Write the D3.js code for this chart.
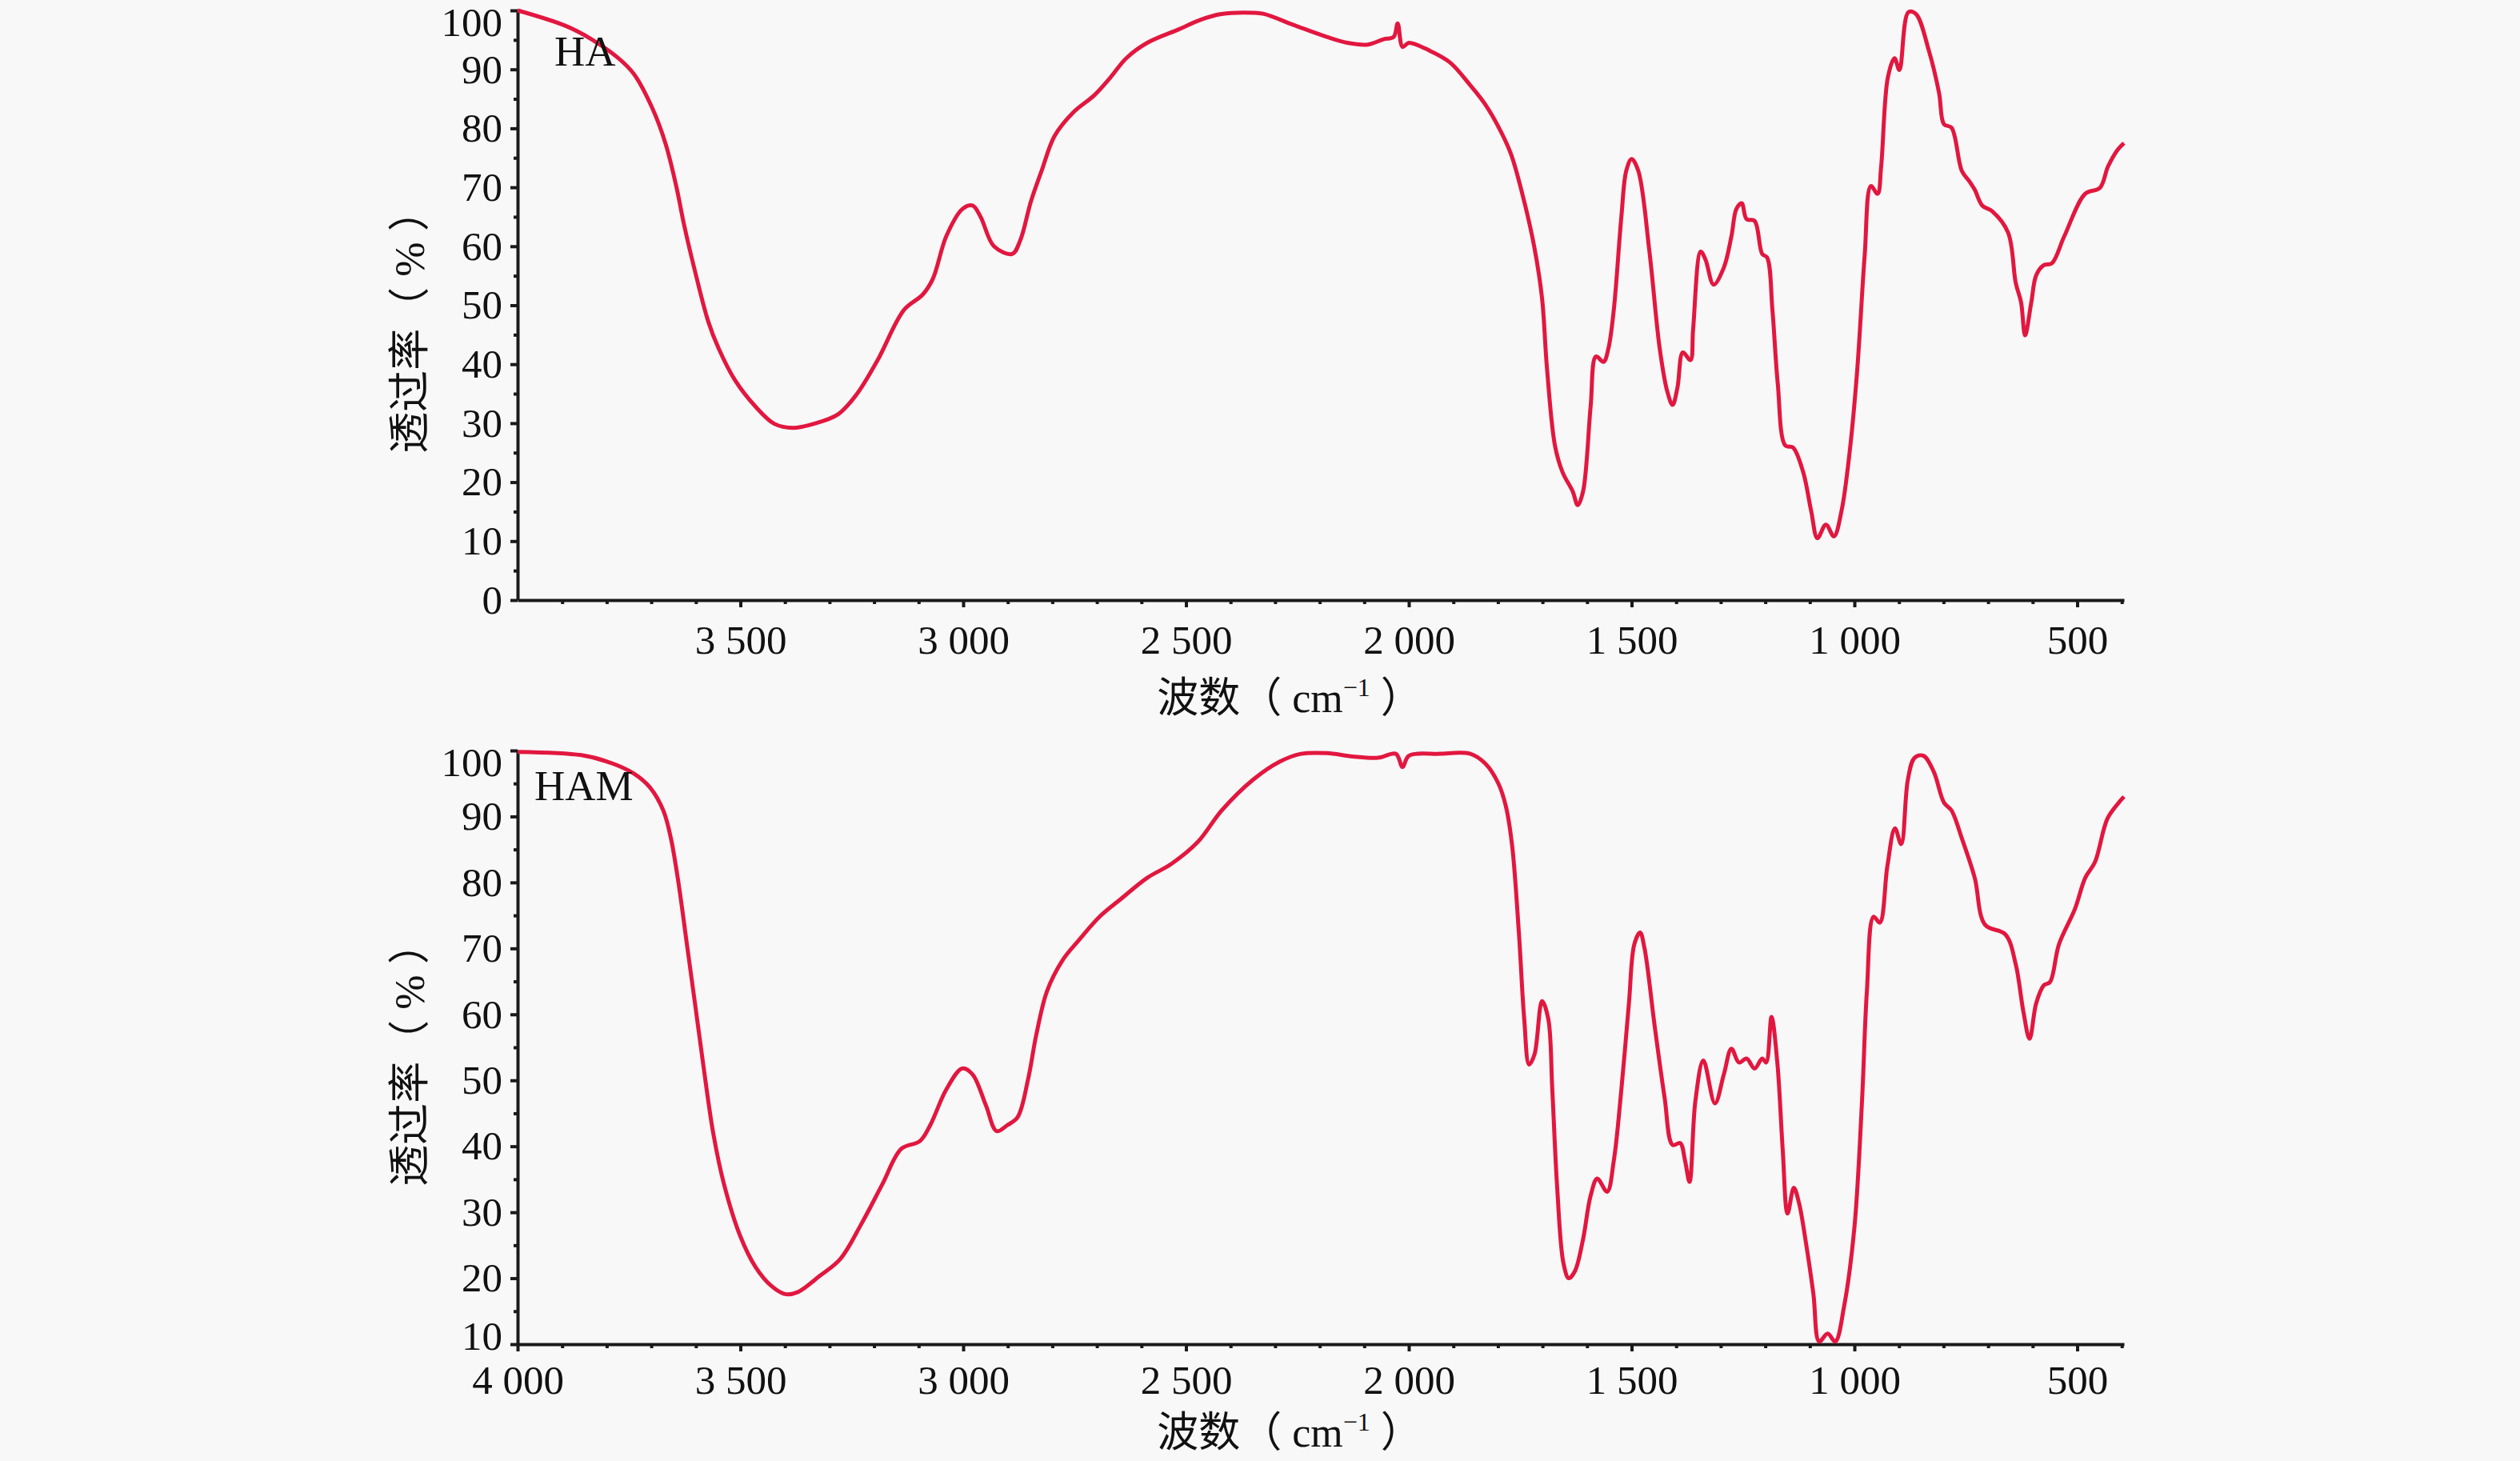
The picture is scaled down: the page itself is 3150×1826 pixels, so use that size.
<!DOCTYPE html>
<html>
<head>
<meta charset="utf-8">
<script src="https://cdn.jsdelivr.net/npm/d3@7"></script>
<style>
  html, body { margin: 0; padding: 0; background: #f8f8f8; }
  svg { display: block; }
</style>
</head>
<body>
<svg id="chart"></svg>
<script>
const width = 3150
const height = 1826

// HA spectrum (wavenumber cm-1 / transmittance %)
const haWavenumber = [4000, 3893, 3834, 3774, 3739, 3697, 3668, 3644, 3626, 3602, 3572, 3549, 3513, 3466, 3424, 3382, 3335, 3281, 3240, 3192,
  3133, 3091, 3068, 3038, 3002, 2979, 2961, 2931, 2890, 2872, 2848, 2824, 2795, 2753, 2706, 2670, 2634, 2587, 2516, 2468,
  2420, 2349, 2325, 2254, 2184, 2138, 2092, 2057, 2034, 2025, 2014, 2000, 1954, 1908, 1862, 1828, 1793, 1770, 1741, 1718,
  1701, 1690, 1672, 1655, 1632, 1621, 1609, 1592, 1580, 1563, 1552, 1540, 1523, 1512, 1500, 1485, 1460, 1437, 1420, 1408,
  1397, 1385, 1368, 1362, 1345, 1334, 1316, 1293, 1276, 1265, 1253, 1242, 1224, 1207, 1196, 1184, 1172, 1155, 1138, 1115,
  1097, 1083, 1064, 1046, 1029, 1011, 994, 977, 963, 948, 940, 925, 910, 899, 879, 862, 833, 810, 799, 782,
  759, 741, 730, 713, 690, 655, 638, 626, 617, 603, 592, 575, 557, 529, 482, 449, 431, 409, 395]
const haTransmittance = [100, 97.4, 95.1, 91.9, 89.2, 83.3, 77.4, 70.2, 63.5, 55.8, 47.2, 42.7, 37.4, 32.8, 29.9, 29.2, 29.9, 31.5, 34.8, 40.7,
  49.2, 51.8, 54.5, 61.7, 66.3, 66.9, 65.0, 60.0, 58.7, 61.0, 67.6, 72.8, 78.7, 82.7, 85.6, 88.6, 91.9, 94.5, 96.8, 98.4,
  99.4, 99.6, 99.4, 97.4, 95.5, 94.5, 94.2, 95.1, 95.5, 97.8, 93.8, 94.5, 93.2, 91.2, 87.3, 84.0, 79.4, 75.5, 67.6, 59.7,
  51.2, 39.4, 26.2, 21.7, 18.4, 16.1, 18.4, 32.8, 41.3, 40.4, 42.7, 49.2, 65.0, 72.8, 74.8, 72.8, 59.1, 42.7, 35.4, 33.1,
  36.1, 42.0, 40.7, 45.9, 59.1, 57.7, 53.5, 56.4, 61.7, 66.3, 67.3, 64.6, 64.3, 58.7, 58.1, 49.2, 36.7, 26.2, 25.9, 21.7,
  15.1, 10.5, 12.8, 10.8, 15.1, 24.9, 38.7, 58.4, 70.2, 68.9, 73.5, 88.6, 91.9, 89.9, 99.7, 99.4, 93.2, 86.0, 80.7, 80.1,
  72.8, 70.9, 69.6, 66.9, 65.9, 62.3, 53.8, 50.5, 44.9, 50.5, 55.1, 56.8, 57.1, 61.7, 68.9, 69.9, 73.5, 76.4, 77.5]

// HAM spectrum
const hamWavenumber = [4000, 3857, 3798, 3739, 3703, 3673, 3656, 3638, 3620, 3602, 3584, 3561, 3537, 3501, 3466, 3430, 3400, 3371, 3323, 3276,
  3228, 3181, 3139, 3097, 3074, 3038, 3002, 2979, 2949, 2925, 2901, 2878, 2854, 2836, 2812, 2777, 2741, 2694, 2646, 2587,
  2533, 2474, 2420, 2349, 2290, 2242, 2184, 2126, 2069, 2029, 2014, 2000, 1931, 1862, 1828, 1799, 1782, 1768, 1753, 1741,
  1730, 1718, 1701, 1687, 1678, 1667, 1653, 1641, 1627, 1609, 1592, 1577, 1555, 1540, 1523, 1506, 1494, 1481, 1471, 1448,
  1426, 1408, 1391, 1380, 1370, 1357, 1339, 1313, 1293, 1276, 1259, 1242, 1224, 1207, 1198, 1186, 1173, 1161, 1150, 1136,
  1124, 1110, 1092, 1079, 1060, 1043, 1023, 1000, 983, 972, 957, 943, 926, 909, 895, 880, 865, 845, 822, 799,
  782, 759, 730, 707, 661, 638, 621, 607, 592, 575, 561, 541, 505, 482, 460, 432, 403, 395]
const hamTransmittance = [99.8, 99.3, 98.3, 96.5, 94.4, 90.9, 86.7, 79.5, 70.6, 61.7, 52.7, 42.0, 34.3, 26.5, 21.7, 18.8, 17.6, 17.9, 20.3, 22.9,
  28.3, 34.3, 39.6, 40.8, 43.2, 48.6, 51.8, 50.9, 46.2, 42.3, 43.2, 44.4, 50.3, 56.9, 63.5, 68.2, 71.2, 74.8, 77.5, 80.7,
  82.8, 86.1, 90.9, 95.6, 98.3, 99.5, 99.6, 99.1, 98.9, 99.5, 97.5, 99.2, 99.5, 99.5, 98.0, 95.0, 91.5, 85.5, 72.4, 59.3,
  52.4, 53.9, 62.0, 59.3, 48.6, 33.7, 22.3, 20.0, 21.1, 25.9, 32.5, 35.1, 33.1, 37.8, 48.6, 61.7, 70.6, 72.4, 70.0, 58.1,
  47.4, 40.2, 40.5, 37.8, 34.6, 46.8, 53.0, 46.5, 50.9, 54.8, 52.7, 53.3, 51.8, 53.3, 52.7, 59.6, 52.7, 39.6, 29.8, 33.7,
  31.3, 25.9, 17.6, 10.4, 11.6, 10.4, 15.8, 27.7, 46.8, 63.5, 74.8, 73.9, 82.5, 88.2, 85.8, 95.6, 98.9, 99.2, 96.8, 92.1,
  90.9, 86.7, 80.7, 73.6, 72.1, 67.6, 60.5, 56.3, 61.7, 64.4, 64.9, 70.6, 76.0, 80.7, 83.1, 89.7, 92.4, 93.0]

// tick labels
const xTicksTop = [3500, 3000, 2500, 2000, 1500, 1000, 500]
const xTicksBottom = [4000, 3500, 3000, 2500, 2000, 1500, 1000, 500]
const yTicksTop = [0, 10, 20, 30, 40, 50, 60, 70, 80, 90, 100]
const yTicksBottom = [10, 20, 30, 40, 50, 60, 70, 80, 90, 100]

const numFont = "'Liberation Serif', 'Times New Roman', serif"
const cjkFont = "'Liberation Serif', 'Noto Sans CJK SC', serif"
const lineColor = "#e2173f"
const axisColor = "#1a1a1a"

const svg = d3.select("#chart")
  .attr("width", width)
  .attr("height", height)
  .style("background", "#f8f8f8")

const x = d3.scaleLinear().domain([4000, 395]).range([647, 2655])

const minorX = d3.range(3900, 395, -100).filter(d => d % 500 !== 0)

const fmt = d => d >= 1000 ? d3.format(",")(d).replace(",", " ") : String(d)

const panels = [
  { name: "HA", wn: haWavenumber, t: haTransmittance, yDomain: [0, 100], yRange: [750, 13],
    yTicks: yTicksTop, xTicks: xTicksTop, labelX: 693, labelY: 82, xLabelY: 67, titleY: 890, yTitleY: 402 },
  { name: "HAM", wn: hamWavenumber, t: hamTransmittance, yDomain: [10, 100], yRange: [1680, 938],
    yTicks: yTicksBottom, xTicks: xTicksBottom, labelX: 668, labelY: 1000, xLabelY: 62, titleY: 1808, yTitleY: 1318 }
]

panels.forEach(p => {
  const y = d3.scaleLinear().domain(p.yDomain).range(p.yRange)
  const minorY = d3.range(p.yDomain[0] + 5, p.yDomain[1], 10)
  const g = svg.append("g")

  // minor ticks
  g.append("g")
    .attr("transform", `translate(0, ${p.yRange[0]})`)
    .call(d3.axisBottom(x).tickValues(minorX).tickSize(5).tickFormat(""))
    .call(s => s.select(".domain").remove())
  g.append("g")
    .attr("transform", `translate(${x(4000)}, 0)`)
    .call(d3.axisLeft(y).tickValues(minorY).tickSize(5).tickFormat(""))
    .call(s => s.select(".domain").remove())

  // x axis
  g.append("g")
    .attr("transform", `translate(0, ${p.yRange[0]})`)
    .call(d3.axisBottom(x).tickValues(p.xTicks).tickSize(9).tickSizeOuter(0).tickFormat(fmt))
    .call(s => s.selectAll("text").attr("dy", null).attr("y", p.xLabelY))

  // y axis
  g.append("g")
    .attr("transform", `translate(${x(4000)}, 0)`)
    .call(d3.axisLeft(y).tickValues(p.yTicks).tickSize(9).tickPadding(10).tickSizeOuter(0))
    .call(s => s.selectAll("text").filter(d => d === 100).attr("dy", "0.62em"))
    .call(s => s.selectAll("text").filter(d => d === 10 && p.yDomain[0] === 10).attr("dy", "0.12em"))

  g.selectAll(".domain").attr("stroke", axisColor).attr("stroke-width", 4)
  g.selectAll(".tick line").attr("stroke", axisColor).attr("stroke-width", 4)
  g.selectAll(".tick text")
    .attr("fill", "#111")
    .style("font-family", numFont)
    .style("font-size", "51px")

  // spectrum
  const line = d3.line()
    .x(d => x(d[0]))
    .y(d => y(d[1]))
    .curve(d3.curveCatmullRom.alpha(0.5))

  g.append("path")
    .datum(d3.zip(p.wn, p.t))
    .attr("fill", "none")
    .attr("stroke", lineColor)
    .attr("stroke-width", 5)
    .attr("stroke-linejoin", "round")
    .attr("d", line)

  // sample label
  g.append("text")
    .attr("x", p.labelX)
    .attr("y", p.labelY)
    .attr("fill", "#111")
    .style("font-family", numFont)
    .style("font-size", "53px")
    .text(p.name)

  // x title
  const xt = g.append("text")
    .attr("x", 1612)
    .attr("y", p.titleY)
    .attr("text-anchor", "middle")
    .attr("fill", "#111")
    .attr("xml:space", "preserve")
    .style("white-space", "pre")
    .style("font-family", cjkFont)
    .style("font-size", "52px")
  xt.append("tspan").text("波数（ cm")
  xt.append("tspan").attr("dy", -20).style("font-size", "32px").text("−1")
  xt.append("tspan").attr("dy", 20).text(" ）")

  // y title
  g.append("text")
    .attr("transform", `translate(512, ${p.yTitleY}) rotate(-90)`)
    .attr("text-anchor", "middle")
    .attr("dominant-baseline", "central")
    .attr("fill", "#111")
    .style("white-space", "pre")
    .style("font-family", cjkFont)
    .style("font-size", "52px")
    .text("透过率（ % ）")
})
</script>
</body>
</html>
